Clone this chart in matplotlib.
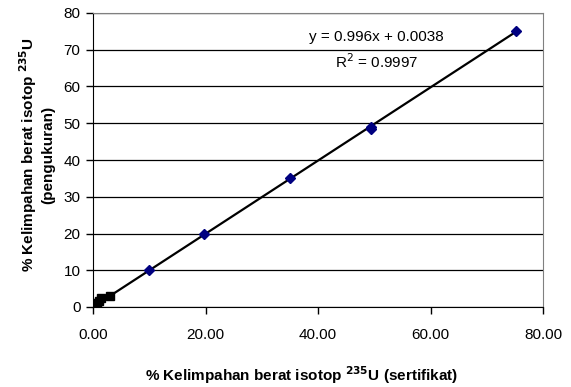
import matplotlib.pyplot as plt

plt.rcParams['font.family'] = ['Liberation Sans', 'DejaVu Sans']

# sertifikat vs pengukuran
x_high = [10.0, 19.8, 35.0, 49.5, 49.5, 75.2]
y_high = [10.1, 19.9, 35.1, 48.3, 49.0, 75.2]
x_low = [0.5, 0.7, 1.0, 1.5, 3.0]
y_low = [0.6, 1.2, 1.7, 2.4, 3.1]

slope = 0.996
intercept = 0.0038
x_fit = [0.0, 75.2]
y_fit = [slope * v + intercept for v in x_fit]

W, H = 571, 387
fig = plt.figure(figsize=(W / 100, H / 100), dpi=100)
ax = fig.add_axes([93 / W, 1 - 307 / H, 450 / W, 294 / H])

ax.plot(x_fit, y_fit, color='black', lw=1.6, zorder=2)
ax.plot(x_high, y_high, 'D', color='#000080', ms=5.5, zorder=3)
ax.plot(x_low, y_low, 's', color='black', ms=5.5, zorder=3)

ax.set_xlim(0, 80)
ax.set_ylim(0, 80)
ax.set_xticks([0, 20, 40, 60, 80])
ax.set_xticklabels(['0.00', '20.00', '40.00', '60.00', '80.00'])
ax.set_yticks(range(0, 81, 10))
ax.yaxis.grid(True, color='black', lw=0.9)
ax.set_axisbelow(True)
ax.tick_params(labelsize=11, direction='out', length=5, width=1)
ax.tick_params(axis='x', pad=10)
ax.tick_params(axis='y', pad=4)

for s in ['top', 'right']:
    ax.spines[s].set_color('#808080')
for s in ['left', 'bottom']:
    ax.spines[s].set_color('black')

ax.text(0.629, 0.918, 'y = 0.996x + 0.0038', transform=ax.transAxes,
        ha='center', va='center', fontsize=11)
ax.text(0.631, 0.833, r'R$^{2}$ = 0.9997', transform=ax.transAxes,
        ha='center', va='center', fontsize=11)

fig.text(302 / W, 1 - 375 / H,
         r'% Kelimpahan berat isotop $^{\mathbf{235}}$U (sertifikat)',
         ha='center', va='center', fontsize=11, fontweight='bold')
fig.text(28 / W, 1 - 155 / H,
         r'% Kelimpahan berat isotop $^{\mathbf{235}}$U',
         ha='center', va='center', rotation=90, fontsize=11, fontweight='bold')
fig.text(48 / W, 1 - 155 / H, '(pengukuran)',
         ha='center', va='center', rotation=90, fontsize=11, fontweight='bold')

fig.savefig('out.png', dpi=100)
